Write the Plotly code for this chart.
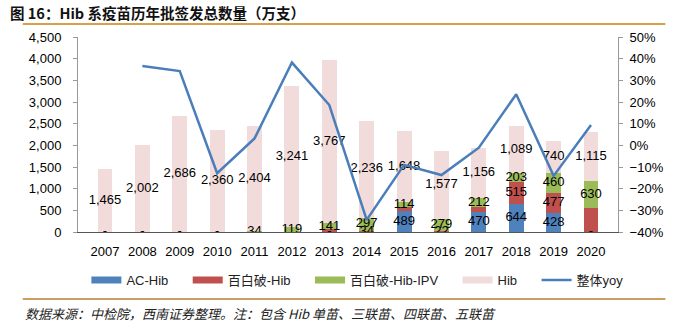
import plotly.graph_objects as go

# ---------------- data ----------------
years = [str(y) for y in range(2007, 2021)]
ac_hib = [0, 0, 0, 0, 0, 0, 0, 0, 489, 0, 470, 644, 428, 0]
dtap_hib = [0, 0, 0, 0, 0, 0, 60, 34, 85, 22, 100, 515, 477, 556]
dtap_hib_ipv = [0, 0, 0, 0, 34, 119, 141, 297, 114, 279, 212, 203, 460, 630]
hib = [1465, 2002, 2686, 2360, 2404, 3241, 3767, 2236, 1648, 1577, 1156, 1089, 740, 1115]
yoy = [None, 36.6, 34.3, -12.9, 3.2, 38.2, 18.6, -34.4, -9.0, -13.7, -1.1, 23.6, -14.1, 9.4]

series_names = ["AC-Hib", "百白破-Hib", "百白破-Hib-IPV", "Hib"]
line_name = "整体yoy"

# label visibility (which data labels are shown in the original)
hidden_labels = {
    "AC-Hib": ["2011", "2012", "2014", "2016"],
    "百白破-Hib": ["2007", "2008", "2009", "2010", "2011", "2012", "2013", "2015", "2017", "2020"],
    "百白破-Hib-IPV": ["2007", "2008", "2009", "2010"],
    "Hib": [],
}

# ---------------- style ----------------
colors = {"AC-Hib": "#4F81BD", "百白破-Hib": "#C0504D",
          "百白破-Hib-IPV": "#9BBB59", "Hib": "#F2DCDB"}
line_color = "#4A7EBB"
FONT = "Liberation Sans, Arial, Noto Sans CJK SC, sans-serif"
CJK = "Noto Sans CJK SC, sans-serif"

W, H = 676, 330
L, R, T, B = 78, 51, 37, 98
PW, PH = W - L - R, H - T - B


def px_x(px):
    return (px - L) / PW


def px_y(py):
    return (H - B - py) / PH


fig = go.Figure()

values = [ac_hib, dtap_hib, dtap_hib_ipv, hib]
bottom = [0] * len(years)
lab_x, lab_y, lab_t = [], [], []
for name, vals in zip(series_names, values):
    fig.add_trace(go.Bar(
        x=years, y=vals, name=name, marker=dict(color=colors[name], line=dict(width=0)),
        width=0.4, showlegend=False, hoverinfo="skip"))
    for i, v in enumerate(vals):
        if years[i] not in hidden_labels[name]:
            lab_x.append(years[i])
            lab_y.append(bottom[i] + v / 2)
            lab_t.append("-" if v == 0 else f"{v:,}")
        bottom[i] += v

fig.add_trace(go.Scatter(
    x=lab_x, y=lab_y, text=lab_t, mode="text", textposition="middle center",
    textfont=dict(size=13, color="#000000", family=FONT),
    showlegend=False, hoverinfo="skip"))

fig.add_trace(go.Scatter(
    x=years, y=yoy, name=line_name, mode="lines", yaxis="y2",
    line=dict(color=line_color, width=2.5), showlegend=False))

# legend proxies (wide rectangle swatches like the original)
for name in series_names:
    fig.add_trace(go.Scatter(
        x=[None], y=[None], mode="lines", name=name + "\u00a0" * 4,
        line=dict(color=colors[name], width=7)))
fig.add_trace(go.Scatter(
    x=[None], y=[None], mode="lines", name=line_name, yaxis="y2",
    line=dict(color=line_color, width=2.5)))

fig.update_layout(
    width=W, height=H,
    margin=dict(l=L, r=R, t=T, b=B),
    paper_bgcolor="white", plot_bgcolor="white",
    barmode="stack", bargap=0.6,
    font=dict(family=FONT, size=13, color="#000000"),
    xaxis=dict(
        type="category", showline=True, linecolor="#555555", linewidth=1,
        ticks="", tickfont=dict(size=13, color="#000000"),
        ticklabelstandoff=7, showgrid=False, zeroline=False, fixedrange=True),
    yaxis=dict(
        range=[0, 4500], dtick=500, tickformat=",d", showgrid=False,
        zeroline=False, showline=True, linecolor="#999999", linewidth=1,
        ticks="outside", ticklen=4, tickcolor="#999999",
        tickfont=dict(size=13, color="#000000"), ticklabelstandoff=9),
    yaxis2=dict(
        range=[-40, 50], dtick=10, ticksuffix="%", overlaying="y", side="right",
        showgrid=False, zeroline=False, showline=True, linecolor="#999999",
        linewidth=1, ticks="outside", ticklen=4, tickcolor="#999999",
        tickfont=dict(size=13, color="#000000"), ticklabelstandoff=4),
    legend=dict(
        orientation="h", x=px_x(361), xanchor="center", y=px_y(280), yanchor="middle",
        font=dict(size=13, color="#222222", family=FONT), traceorder="normal",
        bgcolor="rgba(0,0,0,0)", itemwidth=30, tracegroupgap=0),
    showlegend=True,
)

fig.add_annotation(
    xref="paper", yref="paper", x=px_x(7), y=px_y(12), xanchor="left", yanchor="middle",
    text="<b>图 16：Hib 系疫苗历年批签发总数量（万支）</b>", showarrow=False,
    font=dict(family=CJK, size=14.5, color="#111111"))
fig.add_annotation(
    xref="paper", yref="paper", x=px_x(22), y=px_y(313), xanchor="left", yanchor="middle",
    text="<i>数据来源：中检院，西南证券整理。注：包含 Hib 单苗、三联苗、四联苗、五联苗</i>",
    showarrow=False, font=dict(family=CJK, size=13, color="#222222"))

fig.add_shape(type="line", xref="paper", yref="paper",
              x0=px_x(22), x1=px_x(673), y0=px_y(24), y1=px_y(24),
              line=dict(color="#D9A04A", width=2))
fig.add_shape(type="line", xref="paper", yref="paper",
              x0=px_x(22), x1=px_x(673), y0=px_y(299), y1=px_y(299),
              line=dict(color="#C9A062", width=2))

fig.write_html("out.html")
